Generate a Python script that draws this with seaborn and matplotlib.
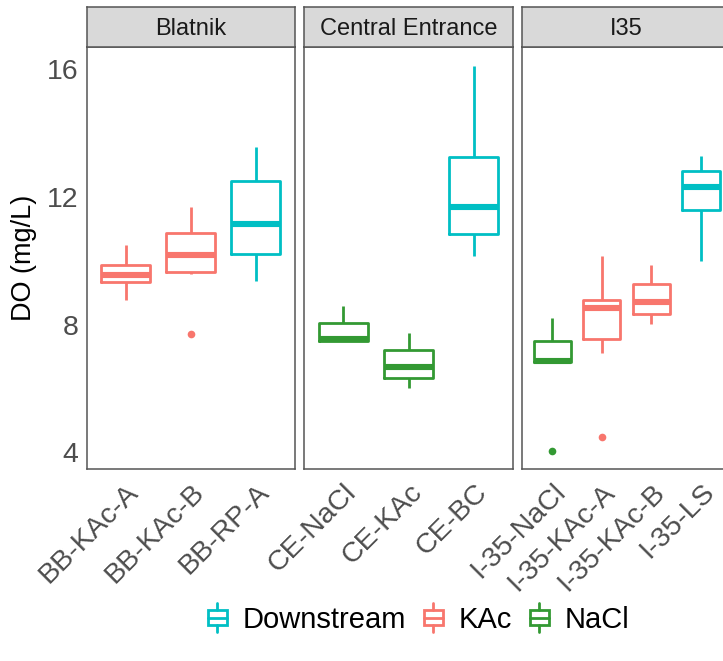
import numpy as np
import pandas as pd
import matplotlib
matplotlib.use("Agg")
import matplotlib.pyplot as plt
from matplotlib.patches import Rectangle
from matplotlib.lines import Line2D
from matplotlib.legend_handler import HandlerBase
import seaborn as sns

# ---- data: dissolved oxygen summary per sampling site ----
sites = ["BB-KAc-A", "BB-KAc-B", "BB-RP-A",
         "CE-NaCl", "CE-KAc", "CE-BC",
         "I-35-NaCl", "I-35-KAc-A", "I-35-KAc-B", "I-35-LS"]
locations = ["Blatnik"] * 3 + ["Central Entrance"] * 3 + ["I35"] * 4
treatments = ["KAc", "KAc", "Downstream",
              "NaCl", "NaCl", "Downstream",
              "NaCl", "KAc", "KAc", "Downstream"]

whisker_low = [8.77, 9.60, 9.37, 7.49, 6.02, 10.16, 6.82, 7.12, 8.02, 10.00]
q1 = [9.33, 9.64, 10.23, 7.49, 6.32, 10.83, 6.82, 7.54, 8.32, 11.59]
median = [9.55, 10.17, 11.15, 7.56, 6.66, 11.69, 6.86, 8.53, 8.72, 12.30]
q3 = [9.86, 10.88, 12.51, 8.04, 7.20, 13.26, 7.50, 8.77, 9.27, 12.82]
whisker_high = [10.49, 11.69, 13.57, 8.59, 7.73, 16.10, 8.20, 10.15, 9.87, 13.28]

outlier_sites = ["BB-KAc-B", "I-35-NaCl", "I-35-KAc-A"]
outlier_treatments = ["KAc", "NaCl", "KAc"]
outlier_values = [7.70, 4.05, 4.47]

panels = ["Blatnik", "Central Entrance", "I35"]
hue_order = ["Downstream", "KAc", "NaCl"]
palette = {"Downstream": "#00BFC4", "KAc": "#F8766D", "NaCl": "#339933"}
y_ticks = [4, 8, 12, 16]

# five-number summaries as long-form rows (whiskers span min..max)
rows = []
for i, s in enumerate(sites):
    for v in (whisker_low[i], q1[i], median[i], q3[i], whisker_high[i]):
        rows.append({"site": s, "location": locations[i],
                     "treatment": treatments[i], "DO": v})
df = pd.DataFrame(rows)
out_df = pd.DataFrame({"site": outlier_sites, "treatment": outlier_treatments,
                       "DO": outlier_values})

sns.set_theme(style="white")
plt.rcParams["font.family"] = ["Liberation Sans", "DejaVu Sans"]
plt.rcParams["text.color"] = "black"

W, H = 723, 661
fig = plt.figure(figsize=(W / 100, H / 100), dpi=100)

panel_w = 208.5
panel_lefts = [86.5, 304.3, 522.4]
panel_top, panel_bot = 46.7, 469.3
strip_top = 6.7
border = "#555555"

for k, (loc, left) in enumerate(zip(panels, panel_lefts)):
    ax = fig.add_axes([left / W, 1 - panel_bot / H, panel_w / W,
                       (panel_bot - panel_top) / H])
    order = [s for s, l in zip(sites, locations) if l == loc]
    sub = df[df["location"] == loc]
    sns.boxplot(data=sub, x="site", y="DO", hue="treatment", order=order,
                hue_order=hue_order, palette=palette, dodge=False, fill=False,
                width=0.75, linewidth=2.0, whis=(0, 100), showcaps=False,
                showfliers=False, medianprops=dict(linewidth=4.4),
                legend=False, ax=ax)
    osub = out_df[out_df["site"].isin(order)]
    if len(osub):
        sns.stripplot(data=osub, x="site", y="DO", hue="treatment",
                      order=order, hue_order=hue_order, palette=palette,
                      jitter=False, size=5.5, linewidth=0, legend=False, ax=ax)
    ax.set_xlim(-0.6, len(order) - 0.4)
    ax.set_ylim(3.47, 16.71)
    ax.set_yticks(y_ticks)
    ax.set_xlabel("")
    ax.set_ylabel("")
    ax.set_facecolor("white")
    for sp in ax.spines.values():
        sp.set_visible(True)
        sp.set_color(border)
        sp.set_linewidth(1.1)
    ax.tick_params(axis="x", length=4, width=1, color="#333333",
                   labelsize=20.5, labelcolor="#4D4D4D", pad=3)
    for lab in ax.get_xticklabels():
        lab.set_rotation(45)
        lab.set_ha("right")
        lab.set_va("top")
        lab.set_rotation_mode("anchor")
    if k == 0:
        ax.tick_params(axis="y", length=4, width=1, color="#333333",
                       labelsize=20.5, labelcolor="#4D4D4D", pad=2)
        ax.set_yticklabels([str(t) for t in y_ticks])
        ax.set_ylabel("DO (mg/L)", fontsize=19.5, color="black", labelpad=7)
    else:
        ax.tick_params(axis="y", length=0, labelleft=False)

    # facet strip
    sax = fig.add_axes([left / W, 1 - panel_top / H, panel_w / W,
                        (panel_top - strip_top) / H])
    sax.set_facecolor("#D9D9D9")
    sax.set_xticks([])
    sax.set_yticks([])
    for sp in sax.spines.values():
        sp.set_visible(True)
        sp.set_color(border)
        sp.set_linewidth(1.1)
    sax.text(0.5, 0.44, loc, ha="center", va="center", fontsize=17,
             color="#1A1A1A", transform=sax.transAxes)


class BoxKey(HandlerBase):
    def create_artists(self, legend, orig_handle, xdescent, ydescent,
                       width, height, fontsize, trans):
        c = orig_handle.get_color()
        x0, y0 = -xdescent, -ydescent
        cx = x0 + width / 2
        bx0, bx1 = x0 + 0.12 * width, x0 + 0.88 * width
        by0, by1 = y0 + 0.2 * height, y0 + 0.8 * height
        box = Rectangle((bx0, by0), bx1 - bx0, by1 - by0, fill=False,
                        edgecolor=c, linewidth=2.0, transform=trans)
        med = Line2D([bx0, bx1], [y0 + 0.5 * height] * 2, color=c,
                     linewidth=2.0, transform=trans)
        w_lo = Line2D([cx, cx], [y0 - 0.05 * height, by0], color=c,
                      linewidth=2.0, transform=trans)
        w_hi = Line2D([cx, cx], [by1, y0 + 1.05 * height], color=c,
                      linewidth=2.0, transform=trans)
        return [box, med, w_lo, w_hi]


handles = [Line2D([], [], color=palette[t]) for t in hue_order]
leg = fig.legend(handles, hue_order, handler_map={Line2D: BoxKey()},
                 loc="center", bbox_to_anchor=(0.577, 1 - 619 / H), ncol=3,
                 frameon=False, fontsize=21, handlelength=0.85,
                 handleheight=1.0, handletextpad=0.45, columnspacing=0.5)
for t in leg.get_texts():
    t.set_color("black")

fig.savefig("out.png", dpi=100)
